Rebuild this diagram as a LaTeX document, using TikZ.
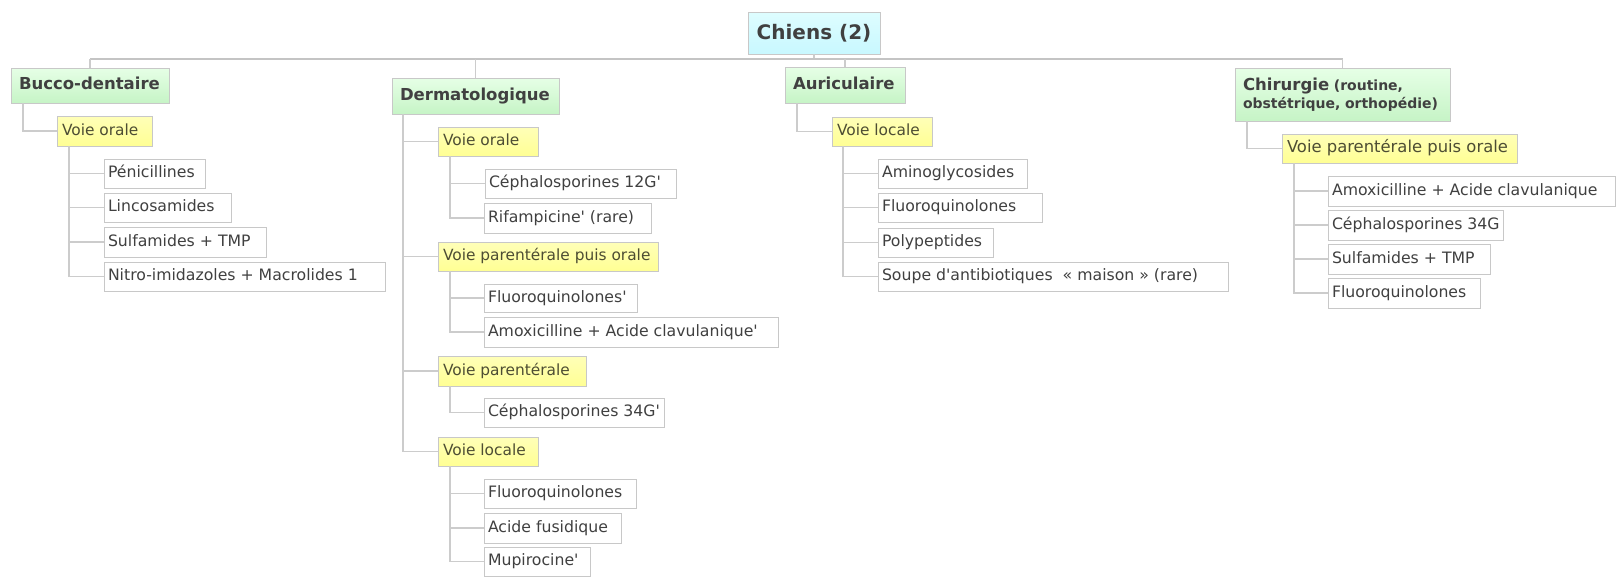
\documentclass[tikz,border=0pt]{standalone}
\usepackage{fontspec}
\setmainfont{DejaVu Sans}
\definecolor{boxgray}{HTML}{C8C8C8}
\definecolor{conngray}{HTML}{CCCCCC}
\definecolor{bargray}{HTML}{C4C4C4}
\definecolor{txt}{HTML}{404040}
\definecolor{ytxt}{HTML}{4D4D33}
\definecolor{yellowtop}{HTML}{FFFFB8}
\definecolor{yellowbot}{HTML}{FFFF94}
\definecolor{greentop}{HTML}{E6FFE6}
\definecolor{greenbot}{HTML}{C6F4C6}
\definecolor{cyantop}{HTML}{DEFDFF}
\definecolor{cyanbot}{HTML}{C8F8FF}
\tikzset{
  base/.style={draw=boxgray, line width=0.9pt, outer sep=0pt, inner ysep=0pt, align=left, anchor=west},
  leaf/.style={base, fill=white, text=txt, inner xsep=4pt, font=\fontsize{15.7}{19}\selectfont, text height=12pt, text depth=3.5pt},
  yel/.style={base, top color=yellowtop, bottom color=yellowbot, text=ytxt, inner xsep=5pt, font=\fontsize{15.4}{19}\selectfont, text height=12pt, text depth=3.5pt},
  grn/.style={base, top color=greentop, bottom color=greenbot, text=txt, inner xsep=8pt, font=\fontsize{16.5}{19}\selectfont\bfseries, text height=12pt, text depth=3.5pt},
  conn/.style={draw=conngray, line width=1.2pt},
  bar/.style={draw=bargray, line width=2.2pt},
}
\newcommand\q{\textquotesingle}
% style, name, x1, x2, y1, y2, xsep, text
\newcommand\mkbox[8]{%
  \pgfmathsetmacro\bw{#4-#3}\pgfmathsetmacro\bh{#6-#5}%
  \pgfmathsetmacro\byc{-(#5+#6)/2}\pgfmathsetmacro\btw{#4-#3-2*#7}%
  \node[#1, minimum width=\bw pt, minimum height=\bh pt] (#2) at (#3pt,\byc pt) {\makebox[\btw pt][l]{#8}};}
\begin{document}
\begin{tikzpicture}
\useasboundingbox (0,0) rectangle (1616pt,-576pt);
\coordinate (barc) at (0pt,-59pt);
% root
\node[draw=boxgray, line width=0.9pt, outer sep=0pt, top color=cyantop, bottom color=cyanbot, text=txt,
  font=\fontsize{20}{24}\selectfont\bfseries, minimum width=132pt, minimum height=42pt, inner sep=0pt]
  (root) at (814pt,-33pt) {Chiens (2)};
% categories
\mkbox{grn}{bucco}{11}{169}{68}{103}{8}{Bucco-dentaire}
\mkbox{grn}{derm}{392}{559}{78}{114}{8}{Dermatologique}
\mkbox{grn}{aur}{785}{905}{67}{103}{8}{Auriculaire}
\node[base, top color=greentop, bottom color=greenbot, text=txt, inner xsep=8pt,
  font=\fontsize{14}{17.5}\selectfont\bfseries,
  minimum width=215pt, minimum height=53pt, text width=199pt] (chir) at (1235pt,-94.5pt)
  {{\fontsize{16.5}{17.5}\selectfont Chirurgie} (routine,\\obstétrique, orthopédie)};
% routes
\mkbox{yel}{bvo}{57}{152}{116}{146}{5}{Voie orale}
\mkbox{yel}{dvo}{438}{538}{127}{156}{5}{Voie orale}
\mkbox{yel}{dvppo}{438}{658}{242}{271}{5}{Voie parentérale puis orale}
\mkbox{yel}{dvp}{438}{586}{356}{386}{5}{Voie parentérale}
\mkbox{yel}{dvl}{438}{538}{437}{466}{5}{Voie locale}
\mkbox{yel}{avl}{832}{932}{117}{146}{5}{Voie locale}
\mkbox{yel, font=\fontsize{16.4}{19}\selectfont}{cvppo}{1282}{1517}{134}{163}{5}{Voie parentérale puis orale}
% leaves
\mkbox{leaf}{b1}{104}{205}{159}{188}{4}{Pénicillines}
\mkbox{leaf}{b2}{104}{231}{193}{222}{4}{Lincosamides}
\mkbox{leaf}{b3}{104}{266}{227}{257}{4}{Sulfamides + TMP}
\mkbox{leaf}{b4}{104}{385}{262}{291}{4}{Nitro-imidazoles + Macrolides 1}
\mkbox{leaf}{d1}{485}{676}{169}{198}{4}{Céphalosporines 12G\q}
\mkbox{leaf}{d2}{484}{651}{203}{233}{4}{Rifampicine\q{} (rare)}
\mkbox{leaf}{d3}{484}{637}{284}{312}{4}{Fluoroquinolones\q}
\mkbox{leaf}{d4}{484}{778}{317}{347}{4}{Amoxicilline + Acide clavulanique\q}
\mkbox{leaf}{d5}{484}{664}{398}{427}{4}{Céphalosporines 34G\q}
\mkbox{leaf}{d6}{484}{636}{479}{508}{4}{Fluoroquinolones}
\mkbox{leaf}{d7}{484}{621}{513}{543}{4}{Acide fusidique}
\mkbox{leaf}{d8}{484}{590}{547}{576}{4}{Mupirocine\q}
\mkbox{leaf}{a1}{878}{1027}{159}{188}{4}{Aminoglycosides}
\mkbox{leaf}{a2}{878}{1042}{193}{222}{4}{Fluoroquinolones}
\mkbox{leaf}{a3}{878}{993}{228}{257}{4}{Polypeptides}
\mkbox{leaf}{a4}{878}{1228}{262}{291}{4}{Soupe d\q antibiotiques ~« maison » (rare)}
\mkbox{leaf}{c1}{1328}{1615}{176}{206}{4}{Amoxicilline + Acide clavulanique}
\mkbox{leaf}{c2}{1328}{1503}{210}{240}{4}{Céphalosporines 34G}
\mkbox{leaf}{c3}{1328}{1490}{244}{274}{4}{Sulfamides + TMP}
\mkbox{leaf}{c4}{1328}{1480}{278}{308}{4}{Fluoroquinolones}
% top bar
\draw[conn] (root.south) -- (root.south |- barc);
\draw[bar] (bucco.north |- barc) -- (chir.north |- barc);
\foreach \c in {bucco,derm,aur,chir}{\draw[conn] (\c.north) -- (\c.north |- barc);}
% category to routes
\draw[conn] ([xshift=12pt]bucco.south west) |- (bvo.west);
\foreach \c in {dvo,dvppo,dvp,dvl}{\draw[conn] ([xshift=11pt]derm.south west) |- (\c.west);}
\draw[conn] ([xshift=12pt]aur.south west) |- (avl.west);
\draw[conn] ([xshift=12pt]chir.south west) |- (cvppo.west);
% routes to leaves
\foreach \c in {b1,b2,b3,b4}{\draw[conn] ([xshift=12pt]bvo.south west) |- (\c.west);}
\foreach \c in {d1,d2}{\draw[conn] ([xshift=12pt]dvo.south west) |- (\c.west);}
\foreach \c in {d3,d4}{\draw[conn] ([xshift=12pt]dvppo.south west) |- (\c.west);}
\foreach \c in {d5}{\draw[conn] ([xshift=12pt]dvp.south west) |- (\c.west);}
\foreach \c in {d6,d7,d8}{\draw[conn] ([xshift=12pt]dvl.south west) |- (\c.west);}
\foreach \c in {a1,a2,a3,a4}{\draw[conn] ([xshift=11pt]avl.south west) |- (\c.west);}
\foreach \c in {c1,c2,c3,c4}{\draw[conn] ([xshift=12pt]cvppo.south west) |- (\c.west);}
\end{tikzpicture}
\end{document}
